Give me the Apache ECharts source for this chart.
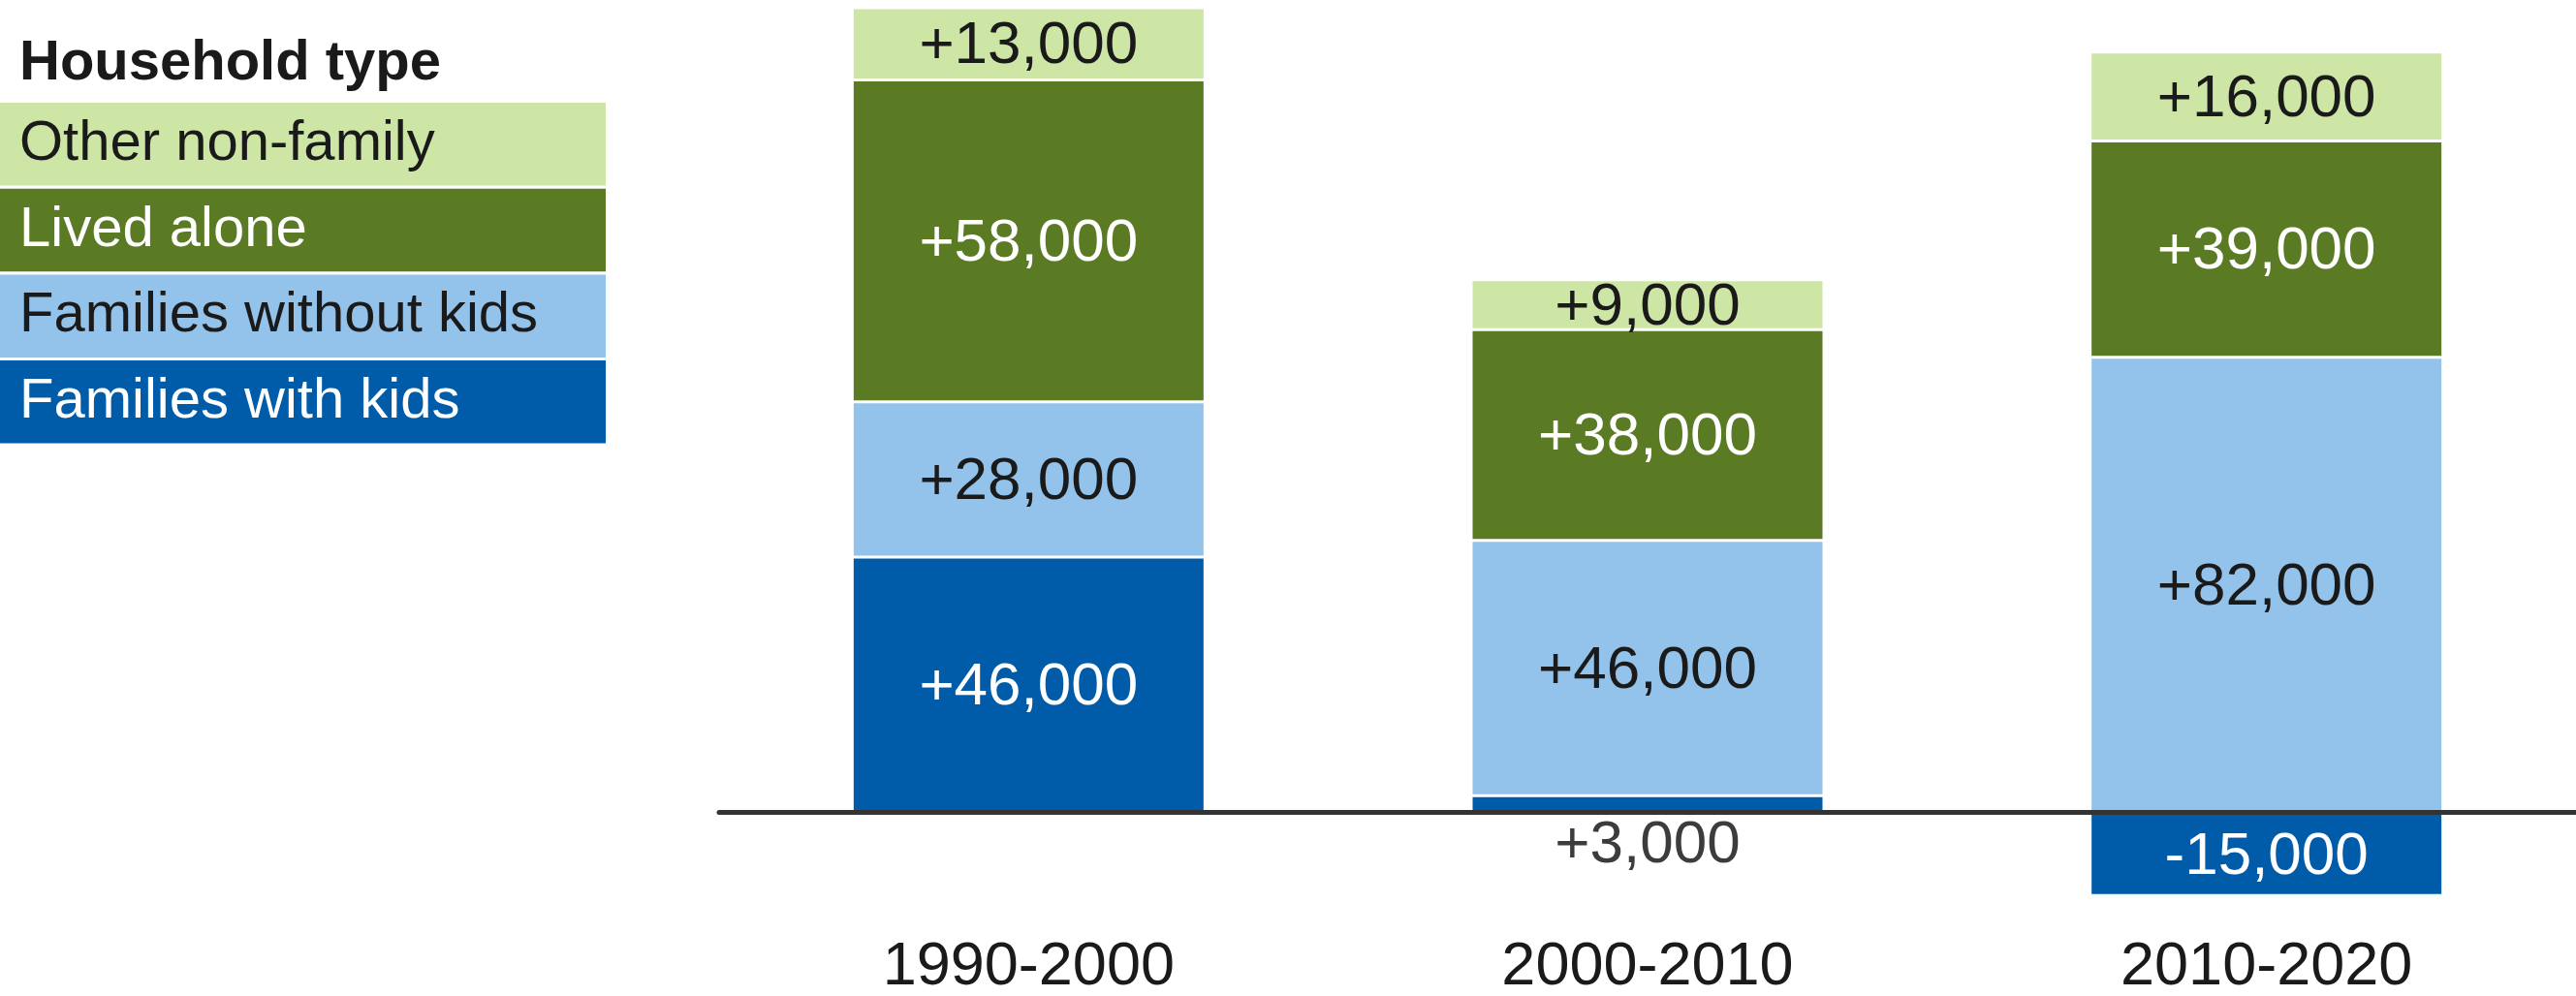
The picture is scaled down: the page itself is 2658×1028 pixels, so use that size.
<!DOCTYPE html>
<html>
<head>
<meta charset="utf-8">
<script src="https://cdn.jsdelivr.net/npm/echarts@6/dist/echarts.min.js"></script>
<style>
  html, body { margin: 0; padding: 0; background: #fff; }
  #main { width: 2658px; height: 1028px; }
</style>
</head>
<body>
<div id="main"></div>
<script>
var myChart = echarts.init(document.getElementById('main'));

var periods = ['1990-2000', '2000-2010', '2010-2020'];

// stacked bottom to top
var seriesNames = ['Families with kids', 'Families without kids', 'Lived alone', 'Other non-family'];
var withKids = [46000, 3000, -15000];
var withoutKids = [28000, 46000, 82000];
var livedAlone = [58000, 38000, 39000];
var otherNonFamily = [13000, 9000, 16000];

var seriesValues = [withKids, withoutKids, livedAlone, otherNonFamily];
var colors = ['#005ca9', '#93c2ea', '#5b7a24', '#cde5a5'];
var labelColors = ['#ffffff', '#1a1a1a', '#ffffff', '#1a1a1a'];

var FONT = '"Liberation Sans", Arial, sans-serif';

function fmt(v) {
    return (v > 0 ? '+' : '') + v.toLocaleString('en-US');
}

var series = seriesValues.map(function (vals, i) {
    return {
        name: seriesNames[i],
        type: 'bar',
        stack: 'total',
        barWidth: 364,
        itemStyle: {
            color: colors[i],
            borderColor: '#fff',
            borderWidth: 1.5
        },
        label: {
            show: true,
            position: 'inside',
            offset: [0, 3],
            fontSize: 62,
            fontFamily: FONT,
            color: labelColors[i],
            formatter: function (p) { return fmt(p.value); }
        },
        data: vals.map(function (v) {
            // too thin to hold its label: put it under the bar
            if (v > 0 && v < 5000) {
                return { value: v, label: { position: 'bottom', distance: 3, offset: [0, 0], color: '#3c3c3c' } };
            }
            return v;
        })
    };
});

// legend boxes, top to bottom
function buildLegend() {
    var out = [];
    for (var k = 0; k < seriesNames.length; k++) {
        var idx = seriesNames.length - 1 - k;
        var rowTop = 106 + k * 88.7;
        out.push({
            type: 'rect',
            shape: { x: 0, y: rowTop, width: 625, height: 85.5 },
            style: { fill: colors[idx] }
        });
        out.push({
            type: 'text',
            x: 20,
            y: rowTop + 43,
            style: {
                text: seriesNames[idx],
                fill: labelColors[idx],
                font: '58px ' + FONT,
                verticalAlign: 'middle'
            }
        });
    }
    return out;
}

option = {
    animation: false,
    backgroundColor: '#fff',
    title: {
        text: 'Household type',
        left: 20,
        top: 37,
        padding: 0,
        textStyle: {
            fontSize: 58,
            fontWeight: 'bold',
            fontFamily: FONT,
            color: '#1a1a1a'
        }
    },
    graphic: buildLegend(),
    grid: {
        left: 742,
        right: 0,
        top: 8,
        bottom: 75,
        containLabel: false,
        outerBoundsMode: 'none'
    },
    xAxis: {
        type: 'category',
        data: periods,
        z: 10,
        axisLine: {
            onZero: true,
            lineStyle: { color: '#333333', width: 5 }
        },
        axisTick: { show: false },
        axisLabel: {
            margin: 14,
            fontSize: 63,
            fontFamily: FONT,
            color: '#1a1a1a'
        }
    },
    yAxis: {
        type: 'value',
        min: -20000,
        max: 145000,
        show: false,
        splitLine: { show: false }
    },
    series: series
};

myChart.setOption(option);
</script>
</body>
</html>
